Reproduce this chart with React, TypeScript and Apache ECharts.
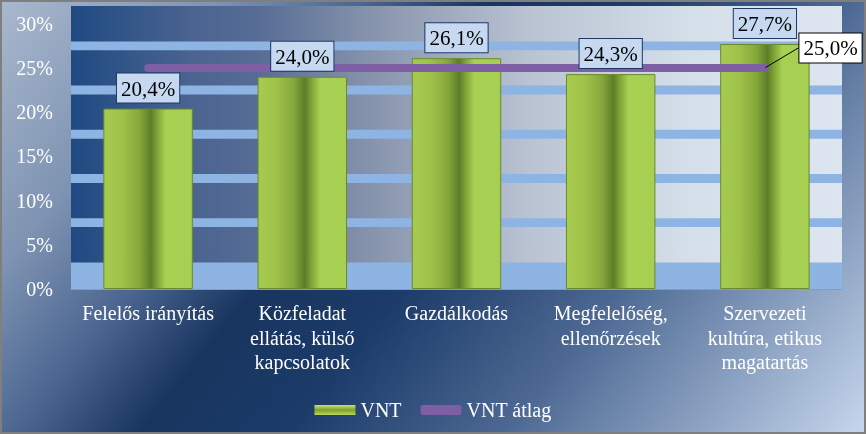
import React, { useEffect, useRef } from "react";
import * as echarts from "echarts";

const categories = [
  "Felelős irányítás",
  "Közfeladat\nellátás, külső\nkapcsolatok",
  "Gazdálkodás",
  "Megfelelőség,\nellenőrzések",
  "Szervezeti\nkultúra, etikus\nmagatartás",
];
const vntValues = [0.204, 0.24, 0.261, 0.243, 0.277];
const avgValues = [0.25, 0.25, 0.25, 0.25, 0.25];
const yMin = 0;
const yMax = 0.32;
const yStep = 0.05;
const bandRanges = [
  [0, 0.03],
  [0.07, 0.08],
  [0.12, 0.13],
  [0.17, 0.18],
  [0.22, 0.23],
  [0.27, 0.28],
];
const seriesNames = ["VNT", "VNT átlag"];

const FONT = "'Liberation Serif', 'Times New Roman', serif";

const pct = (v: number) => (v * 100).toFixed(1).replace(".", ",") + "%";

export default function App() {
  const ref = useRef<HTMLDivElement>(null);
  useEffect(() => {
    if (!ref.current) return;
    const chart = echarts.init(ref.current, undefined, { renderer: "svg" });
    const LG = echarts.graphic.LinearGradient;
    const barGrad = new LG(0, 0, 1, 0, [
      { offset: 0, color: "#a6cb4f" },
      { offset: 0.2, color: "#9fc34a" },
      { offset: 0.4, color: "#86a83b" },
      { offset: 0.53, color: "#5e7d29" },
      { offset: 0.6, color: "#7fa236" },
      { offset: 0.7, color: "#a8d052" },
      { offset: 1, color: "#a7cf51" },
    ]);
    const legendGrad = new LG(0, 0, 0, 1, [
      { offset: 0, color: "#c8e46a" },
      { offset: 0.5, color: "#7f9f32" },
      { offset: 1, color: "#b7d85a" },
    ]);
    const option: any = {
      animation: false,
      textStyle: { fontFamily: FONT },
      graphic: {
        elements: [
          {
            type: "rect",
            z: -10,
            silent: true,
            shape: { x: 0, y: 0, width: 866, height: 434 },
            style: {
              fill: new LG(
                0,
                0,
                740,
                597,
                [
                  { offset: 0, color: "#a9b8cd" },
                  { offset: 0.18, color: "#7e93b2" },
                  { offset: 0.3, color: "#4a6590" },
                  { offset: 0.4, color: "#18355f" },
                  { offset: 0.52, color: "#1c3b69" },
                  { offset: 0.7, color: "#4d6993" },
                  { offset: 1, color: "#c9d9ef" },
                ],
                true
              ),
              stroke: "#7f7f7f",
              lineWidth: 4,
            },
          },
        ],
      },
      grid: {
        left: 71,
        right: 24,
        top: 6,
        bottom: 145,
        show: true,
        borderWidth: 0,
        backgroundColor: new LG(0, 0, 1, 0, [
          { offset: 0, color: "#1f4a82" },
          { offset: 0.154, color: "#4a6390" },
          { offset: 0.24, color: "#566c95" },
          { offset: 0.4, color: "#8a96ae" },
          { offset: 0.595, color: "#b9c3d2" },
          { offset: 0.8, color: "#d5dfea" },
          { offset: 1, color: "#dde5f0" },
        ]),
      },
      legend: {
        data: [
          { name: seriesNames[0], icon: "rect", itemStyle: { color: legendGrad, borderWidth: 0 } },
          { name: seriesNames[1], icon: "roundRect" },
        ],
        left: "center",
        top: 395,
        itemWidth: 41,
        itemHeight: 10,
        itemGap: 19,
        textStyle: { color: "#ffffff", fontSize: 20, fontFamily: FONT },
      },
      xAxis: {
        type: "category",
        data: categories,
        axisTick: { show: false },
        axisLine: { show: true, lineStyle: { color: "#8a9bb5", width: 1 } },
        axisLabel: {
          color: "#ffffff",
          fontSize: 20,
          lineHeight: 24.5,
          fontFamily: FONT,
          interval: 0,
          margin: 12,
        },
      },
      yAxis: {
        type: "value",
        min: yMin,
        max: yMax,
        interval: yStep,
        splitLine: { show: false },
        axisLine: { show: false },
        axisTick: { show: false },
        axisLabel: {
          color: "#ffffff",
          fontSize: 20,
          fontFamily: FONT,
          margin: 18,
          formatter: (v: number) => {
            const p = v * 100;
            return Math.abs(p - Math.round(p / 5) * 5) < 0.01 ? Math.round(p) + "%" : "";
          },
        },
      },
      series: [
        {
          name: seriesNames[0],
          type: "bar",
          data: vntValues,
          barWidth: "58%",
          z: 2,
          itemStyle: { color: barGrad, borderColor: "#6a8a2c", borderWidth: 1 },
          markArea: {
            silent: true,
            itemStyle: { color: "#8eb4e3" },
            data: bandRanges.map((r) => [{ yAxis: r[0] }, { yAxis: r[1] }]),
          },
        },
        {
          name: seriesNames[1],
          type: "line",
          data: avgValues.map((v, i) =>
            i === avgValues.length - 1
              ? {
                  value: v,
                  label: {
                    show: true,
                    position: "right",
                    distance: 5,
                    formatter: (p: any) => pct(p.value),
                    color: "#000",
                    fontSize: 21,
                    lineHeight: 22,
                    fontFamily: FONT,
                    backgroundColor: "#ffffff",
                    borderColor: "#000000",
                    borderWidth: 1,
                    padding: [4, 4, 3, 4],
                  },
                }
              : v
          ),
          z: 3,
          color: "#7f5fa3",
          symbol: "circle",
          symbolSize: 1,
          lineStyle: { color: "#7f5fa3", width: 8, cap: "round" },
          labelLine: { show: true, lineStyle: { color: "#000", width: 1 } },
          labelLayout: (p: any) => (p.dataIndex === avgValues.length - 1 ? { dx: 29, dy: -20 } : {}),
        },
        {
          name: "labels",
          type: "bar",
          data: vntValues,
          barWidth: "58%",
          barGap: "-100%",
          z: 5,
          silent: true,
          itemStyle: { color: "rgba(0,0,0,0)" },
          label: {
            show: true,
            position: "top",
            distance: 6,
            formatter: (p: any) => pct(p.value),
            color: "#000",
            fontSize: 21,
            lineHeight: 22,
            fontFamily: FONT,
            backgroundColor: "#c6d9f1",
            borderColor: "#1f3864",
            borderWidth: 1,
            padding: [4, 4, 3, 4],
          },
        },
      ],
    };
    chart.setOption(option);
    return () => chart.dispose();
  }, []);
  return (
    <div
      ref={ref}
      style={{ position: "fixed", left: 0, top: 0, width: 866, height: 434 }}
    />
  );
}
